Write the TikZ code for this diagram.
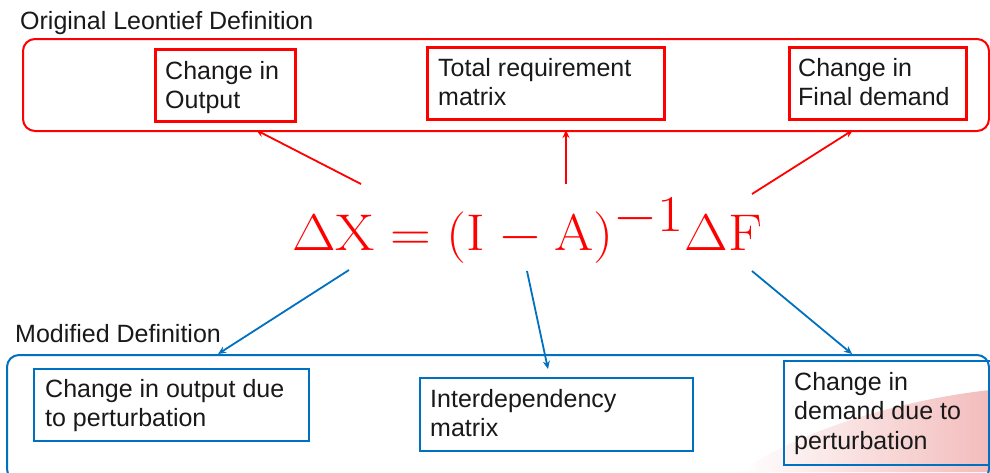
\documentclass[tikz,border=0pt]{standalone}
\usepackage[no-math]{fontspec}
\setmainfont{Liberation Sans}
\usepackage{graphicx}
\usetikzlibrary{arrows.meta,calc}
\definecolor{lred}{RGB}{255,0,0}
\definecolor{lblue}{RGB}{0,112,192}
\definecolor{smear}{RGB}{243,188,188}
\newcommand\mylines[1]{\begin{tabular}[t]{@{}l@{}}#1\end{tabular}}
\begin{document}
\begin{tikzpicture}[x=1pt,y=-1pt,
  txt/.style={anchor=base west, inner sep=0pt, font=\fontsize{25}{29.5}\selectfont, text=black!90},
  frame/.style={draw, rounded corners=12pt, line width=2pt, anchor=north west, inner sep=0pt},
  redbox/.style={draw=lred, line width=2.5pt, anchor=north west, inner sep=0pt},
  bluebox/.style={draw=lblue, line width=2pt, anchor=north west, inner sep=0pt},
  redarrow/.style={draw=lred, line width=1.8pt, -{Stealth[length=8pt,width=7pt]}},
  bluearrow/.style={draw=lblue, line width=1.8pt, -{Stealth[length=8pt,width=7pt]}},
]
\useasboundingbox (0,0) rectangle (990,472);
\fill[white] (0,0) rectangle (990,472);
\clip (0,0) rectangle (990,472);

% faint background smear
\shade[left color=white, right color=smear] (740,472) .. controls (800,430) and (900,400) .. (990,390) -- (990,472) -- cycle;

% outer frames
\node[frame, draw=lred, minimum width=966pt, minimum height=92pt] (orig) at (22,38) {};
\node[frame, draw=lblue, minimum width=982pt, minimum height=126pt] (mod) at (6,354) {};

% frame titles
\node[txt] (origT) at (20,29) {Original Leontief Definition};
\node[txt] (modT) at (15,342) {Modified Definition};

% top boxes
\node[redbox, minimum width=140pt, minimum height=72pt] (bout) at (154,48) {};
\node[txt] (tout) at (165,79) {\mylines{Change in\\Output}};
\node[redbox, minimum width=237pt, minimum height=72pt] (btot) at (426,46) {};
\node[txt] (ttot) at (438,76) {\mylines{Total requirement\\matrix}};
\node[redbox, minimum width=177pt, minimum height=72pt] (bfin) at (788,46) {};
\node[txt] (tfin) at (798,76) {\mylines{Change in\\Final demand}};

% bottom boxes
\node[bluebox, minimum width=275pt, minimum height=72pt] (bpo) at (33,368) {};
\node[txt] (tpo) at (45,397) {\mylines{Change in output due\\to perturbation}};
\node[bluebox, minimum width=273pt, minimum height=73pt] (bint) at (419,377) {};
\node[txt] (tint) at (430,407) {\mylines{Interdependency\\matrix}};
\node[bluebox, minimum width=220pt, minimum height=104pt] (bdem) at (783,360) {};
\node[txt] (tdem) at (794,390) {\mylines{Change in\\demand due to\\perturbation}};

% equation
\node[anchor=base west, inner sep=0pt, text=lred] (eq) at (292,250)
  {\resizebox{470pt}{52pt}{\fontsize{58}{60}\selectfont$\mathrm{\Delta X = (I - A)^{-1}\Delta F}$}};

% connector end points
\coordinate (r1s) at (361,184); \coordinate (r1e) at (256,130);
\coordinate (r2s) at (566,184); \coordinate (r2e) at (566,130);
\coordinate (r3s) at (752,194); \coordinate (r3e) at (853,130);
\coordinate (b1s) at (349,270); \coordinate (b1e) at (218,354);
\coordinate (b2s) at (527,271); \coordinate (b2e) at (548,369);
\coordinate (b3s) at (752,271); \coordinate (b3e) at (852,354);

\draw[redarrow] (r1s) -- (r1e);
\draw[redarrow] (r2s) -- (r2e);
\draw[redarrow] (r3s) -- (r3e);
\draw[bluearrow] (b1s) -- (b1e);
\draw[bluearrow] (b2s) -- (b2e);
\draw[bluearrow] (b3s) -- (b3e);
\end{tikzpicture}
\end{document}
